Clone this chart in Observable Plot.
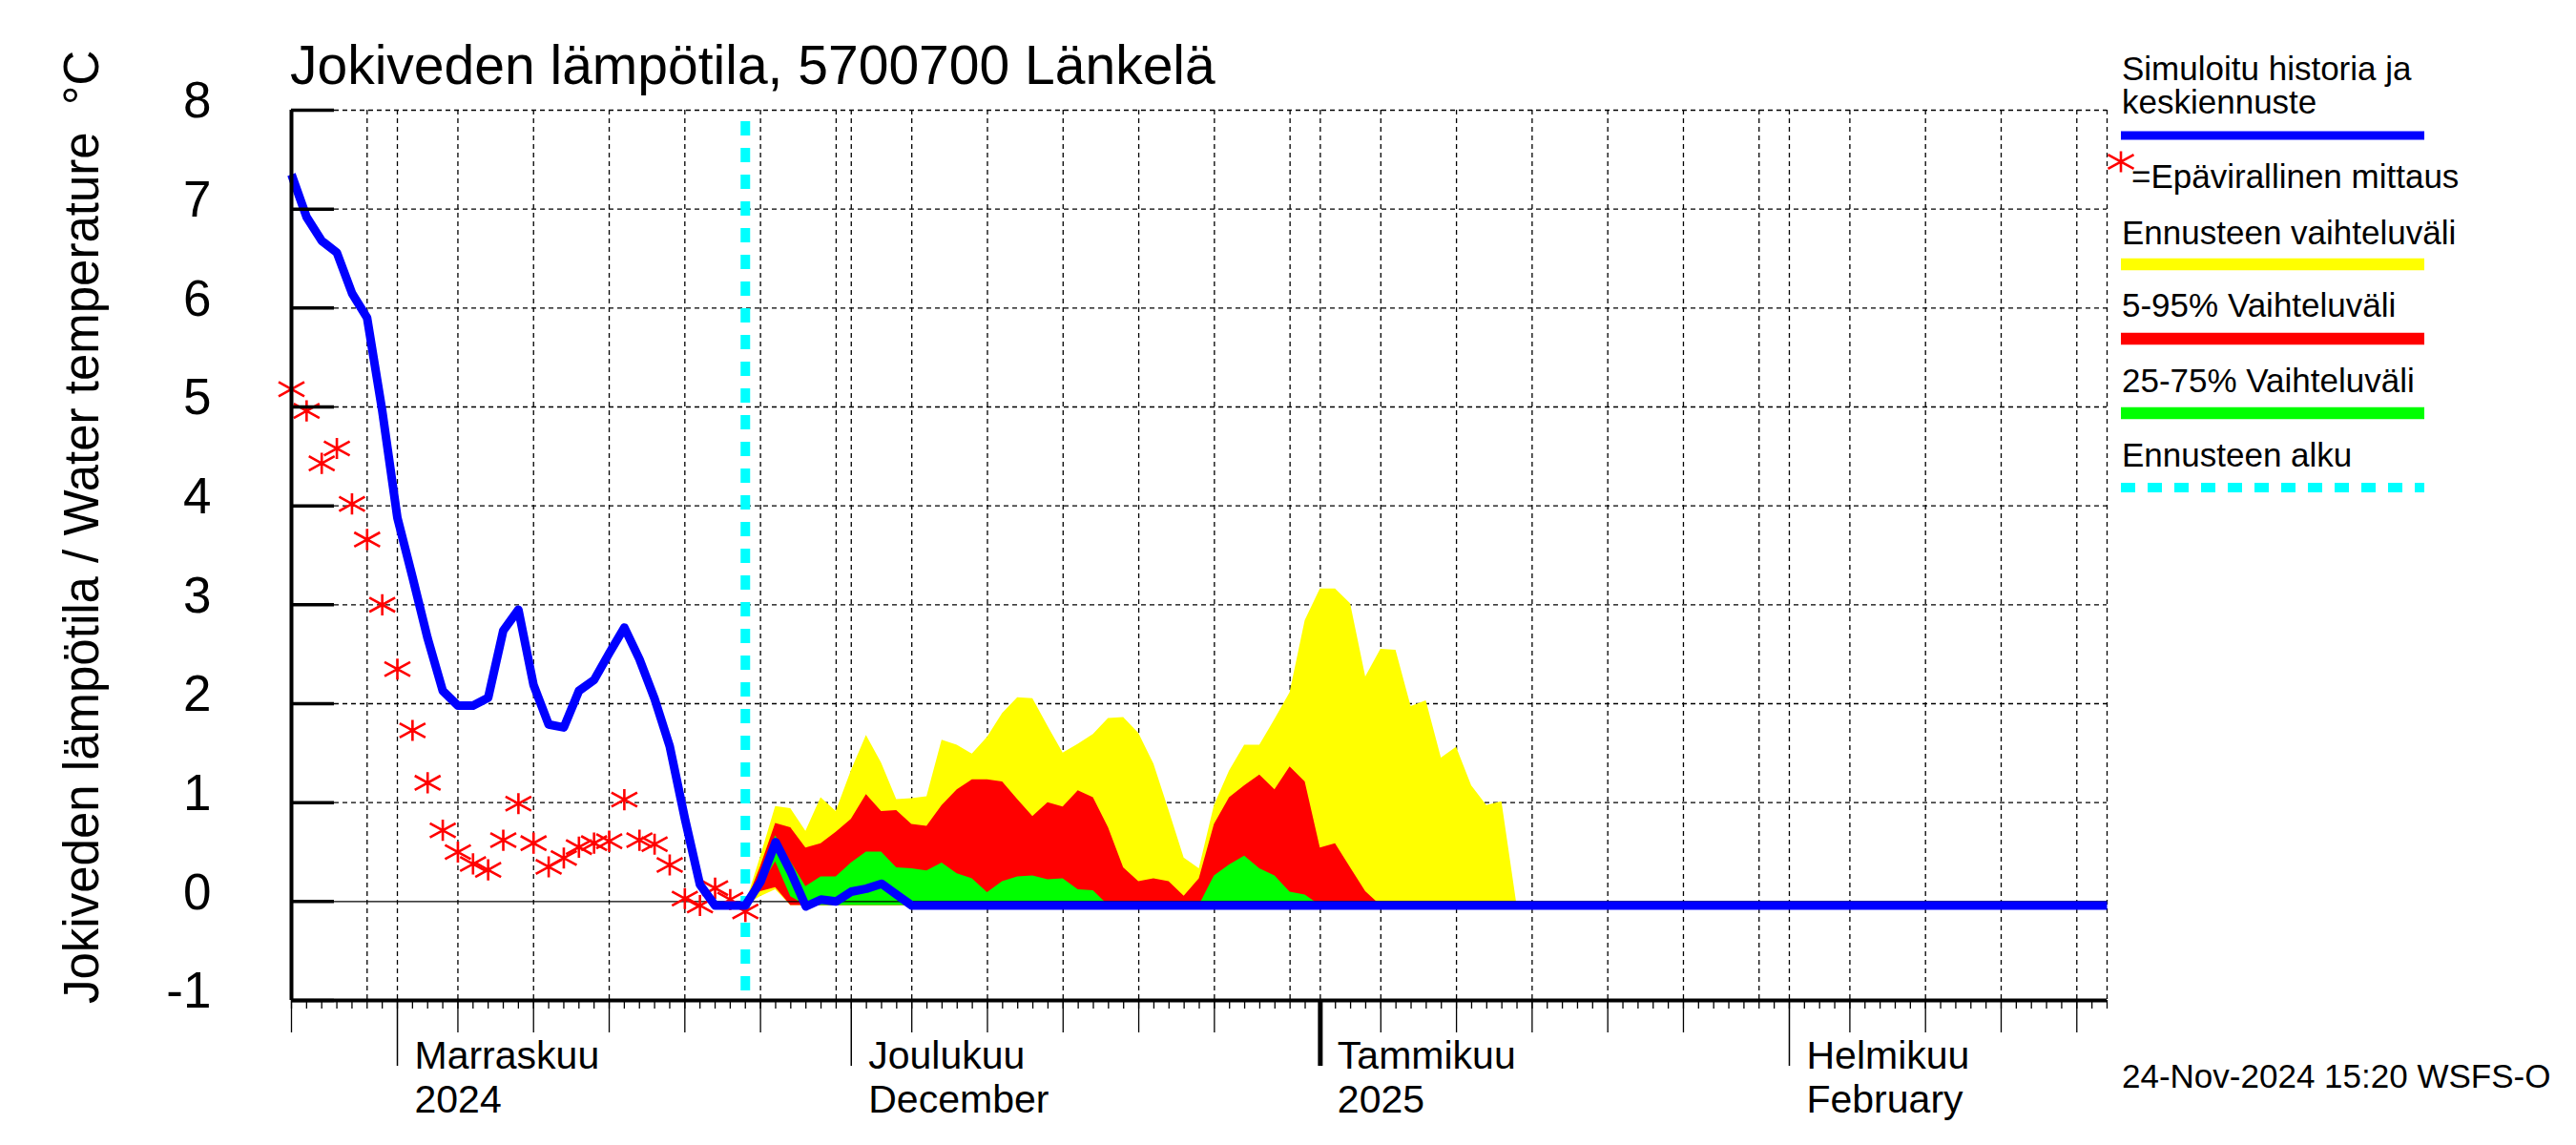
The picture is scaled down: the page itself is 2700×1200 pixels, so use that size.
<!DOCTYPE html>
<html><head><meta charset="utf-8">
<script src="https://cdn.jsdelivr.net/npm/d3@7"></script>
<script src="https://cdn.jsdelivr.net/npm/@observablehq/plot@0.6"></script>
<style>
html,body{margin:0;padding:0;background:#fff;}
#chart svg{display:block;}
</style></head><body><div id="chart"></div>
<script>
// ---------------- data ----------------
const titleText = "Jokiveden lämpötila, 5700700 Länkelä";
const yLabelText = "Jokiveden lämpötila / Water temperature  °C";
const footerText = "24-Nov-2024 15:20 WSFS-O";

const xStartDate = "2024-10-25";
const xEndDate = "2025-02-22";
const forecastStartDate = "2024-11-24";

// simulated history + mean forecast, daily from 2024-10-25
const simulated = [7.35, 6.92, 6.68, 6.56, 6.15, 5.90, 4.96, 3.88, 3.28, 2.66,
  2.13, 1.98, 1.98, 2.06, 2.74, 2.95, 2.19, 1.79, 1.76, 2.13,
  2.24, 2.51, 2.77, 2.45, 2.05, 1.57, 0.84, 0.17, -0.04, -0.04,
  -0.04, 0.20, 0.60, 0.30, -0.05, 0.02, 0.00, 0.10, 0.13, 0.18,
  0.07, -0.04];
const simulatedEnd = {date: "2025-02-22", value: -0.04};

// unofficial measurements, daily from 2024-10-25
const observed = [5.18, 4.96, 4.43, 4.58, 4.02, 3.66, 3.00, 2.35, 1.73, 1.20,
  0.72, 0.50, 0.38, 0.32, 0.62, 0.99, 0.59, 0.35, 0.44, 0.55,
  0.59, 0.61, 1.03, 0.62, 0.58, 0.37, 0.03, -0.04, 0.135, 0.02,
  -0.10];

// forecast bands, daily from 2024-11-24
const bandStart = "2024-11-24";
const yellowHigh = [-0.04, 0.45, 0.96, 0.94, 0.71, 1.05, 0.91, 1.32, 1.68, 1.40,
  1.03, 1.04, 1.06, 1.63, 1.58, 1.49, 1.66, 1.90, 2.06, 2.05,
  1.77, 1.50, 1.59, 1.69, 1.85, 1.86, 1.70, 1.39, 0.92, 0.44,
  0.33, 0.97, 1.32, 1.58, 1.58, 1.84, 2.11, 2.84, 3.16, 3.16,
  3.01, 2.27, 2.55, 2.54, 1.97, 2.03, 1.45, 1.56, 1.17, 0.97,
  1.01, -0.04];
const yellowLow = [-0.04, 0.05, 0.12, -0.04, -0.04, -0.04, -0.04, -0.04, -0.04, -0.04,
  -0.04, -0.04, -0.04, -0.04, -0.04, -0.04, -0.04, -0.04, -0.04, -0.04,
  -0.04, -0.04, -0.04, -0.04, -0.04, -0.04, -0.04, -0.04, -0.04, -0.04,
  -0.04, -0.04, -0.04, -0.04, -0.04, -0.04, -0.04, -0.04, -0.04, -0.04,
  -0.04, -0.04, -0.04, -0.04, -0.04, -0.04, -0.04, -0.04, -0.04, -0.04,
  -0.04, -0.04];
const redHigh = [-0.04, 0.35, 0.79, 0.745, 0.54, 0.585, 0.70, 0.83, 1.08, 0.91,
  0.92, 0.78, 0.76, 0.97, 1.13, 1.23, 1.23, 1.21, 1.03, 0.86,
  1.00, 0.955, 1.12, 1.05, 0.745, 0.34, 0.20, 0.23, 0.20, 0.055,
  0.23, 0.78, 1.05, 1.17, 1.28, 1.13, 1.36, 1.21, 0.54, 0.585,
  0.34, 0.10, -0.04, -0.04, -0.04, -0.04, -0.04, -0.04, -0.04, -0.04,
  -0.04, -0.04];
const redLow = [-0.04, 0.10, 0.14, -0.04, -0.04, -0.04, -0.04, -0.04, -0.04, -0.04,
  -0.04, -0.04, -0.04, -0.04, -0.04, -0.04, -0.04, -0.04, -0.04, -0.04,
  -0.04, -0.04, -0.04, -0.04, -0.04, -0.04, -0.04, -0.04, -0.04, -0.04,
  -0.04, -0.04, -0.04, -0.04, -0.04, -0.04, -0.04, -0.04, -0.04, -0.04,
  -0.04, -0.04, -0.04, -0.04, -0.04, -0.04, -0.04, -0.04, -0.04, -0.04,
  -0.04, -0.04];
const greenHigh = [-0.04, 0.25, 0.665, 0.40, 0.15, 0.25, 0.25, 0.39, 0.50, 0.50,
  0.34, 0.33, 0.31, 0.39, 0.28, 0.23, 0.09, 0.20, 0.25, 0.26,
  0.22, 0.23, 0.12, 0.11, -0.04, -0.04, -0.04, -0.04, -0.04, -0.04,
  -0.04, 0.26, 0.37, 0.46, 0.33, 0.26, 0.095, 0.065, -0.04, -0.04,
  -0.04, -0.04, -0.04, -0.04, -0.04, -0.04, -0.04, -0.04, -0.04, -0.04,
  -0.04, -0.04];
const greenLow = [-0.04, 0.15, 0.40, 0.05, -0.04, -0.04, -0.04, -0.04, -0.04, -0.04,
  -0.04, -0.04, -0.04, -0.04, -0.04, -0.04, -0.04, -0.04, -0.04, -0.04,
  -0.04, -0.04, -0.04, -0.04, -0.04, -0.04, -0.04, -0.04, -0.04, -0.04,
  -0.04, -0.04, -0.04, -0.04, -0.04, -0.04, -0.04, -0.04, -0.04, -0.04,
  -0.04, -0.04, -0.04, -0.04, -0.04, -0.04, -0.04, -0.04, -0.04, -0.04,
  -0.04, -0.04];

const yTicks = [-1, 0, 1, 2, 3, 4, 5, 6, 7, 8];
const yGridValues = [1, 2, 3, 4, 5, 6, 7, 8];
const monthLabels = [
  {date: "2024-11-01", text: "Marraskuu\n2024"},
  {date: "2024-12-01", text: "Joulukuu\nDecember"},
  {date: "2025-01-01", text: "Tammikuu\n2025"},
  {date: "2025-02-01", text: "Helmikuu\nFebruary"}
];
const legendItems = [
  {label: "Simuloitu historia ja\nkeskiennuste", color: "#0000ff", kind: "line"},
  {label: "=Epävirallinen mittaus", color: "#ff0000", kind: "star"},
  {label: "Ennusteen vaihteluväli", color: "#ffff00", kind: "bar"},
  {label: "5-95% Vaihteluväli", color: "#ff0000", kind: "bar"},
  {label: "25-75% Vaihteluväli", color: "#00ff00", kind: "bar"},
  {label: "Ennusteen alku", color: "#00ffff", kind: "dash"}
];

// ---------------- build ----------------
const FONT = "'Liberation Sans', Arial, Helvetica, sans-serif";
const parse = s => new Date(s + "T00:00:00Z");
const addDays = (s, i) => new Date(parse(s).getTime() + i * 864e5);

const xStart = parse(xStartDate), xEnd = parse(xEndDate);
const simData = simulated.map((v, i) => ({date: addDays(xStartDate, i), value: v}))
  .concat([{date: parse(simulatedEnd.date), value: simulatedEnd.value}]);
const obsData = observed.map((v, i) => ({date: addDays(xStartDate, i), value: v}));
const bands = yellowHigh.map((v, i) => ({
  date: addDays(bandStart, i),
  yh: v, yl: yellowLow[i], rh: redHigh[i], rl: redLow[i], gh: greenHigh[i], gl: greenLow[i]
}));
const labels = monthLabels.map(d => ({date: parse(d.date), text: d.text}));

const allDays = d3.utcDay.range(xStart, new Date(xEnd.getTime() + 1));
const fiveDays = allDays.filter(d => [5, 10, 15, 20, 25].includes(d.getUTCDate()));
const monthDays = allDays.filter(d => d.getUTCDate() === 1);
const yearDays = monthDays.filter(d => d.getUTCMonth() === 0);
const gridDays = allDays.filter(d => [1, 5, 10, 15, 20, 25, 30].includes(d.getUTCDate()) && +d !== +xStart).concat([xEnd]);

const W = 2700, H = 1200, mL = 305, mR = 492, mT = 115, mB = 152;
const plotW = W - mL - mR;

const asterisk = {
  draw(ctx, size) {
    const r = Math.sqrt(size / Math.PI);
    ctx.moveTo(0, -r * 0.82); ctx.lineTo(0, r * 0.82);
    ctx.moveTo(-r, -r * 0.55); ctx.lineTo(r, r * 0.55);
    ctx.moveTo(-r, r * 0.55); ctx.lineTo(r, -r * 0.55);
  }
};
const noText = () => "";

const plot = Plot.plot({
  width: W, height: H,
  marginLeft: mL, marginRight: mR, marginTop: mT, marginBottom: mB,
  style: {fontFamily: FONT, background: "white", overflow: "visible", color: "black"},
  x: {type: "utc", domain: [xStart, xEnd], axis: null},
  y: {domain: [-1, 8], axis: null},
  marks: [
    Plot.gridY(yGridValues, {stroke: "black", strokeOpacity: 1, strokeWidth: 1.3, strokeDasharray: "5,4"}),
    Plot.gridX(gridDays, {stroke: "black", strokeOpacity: 1, strokeWidth: 1.3, strokeDasharray: "5,4"}),
    Plot.areaY(bands, {x: "date", y1: "yl", y2: "yh", fill: "#ffff00"}),
    Plot.areaY(bands, {x: "date", y1: "rl", y2: "rh", fill: "#ff0000"}),
    Plot.areaY(bands, {x: "date", y1: "gl", y2: "gh", fill: "#00ff00"}),
    Plot.ruleY([0], {stroke: "black", strokeWidth: 1.3}),
    Plot.ruleX([parse(forecastStartDate)], {stroke: "#00ffff", strokeWidth: 10, strokeDasharray: "15,13", strokeDashoffset: 16}),
    Plot.dot(obsData, {x: "date", y: "value", symbol: asterisk, r: 13.5, stroke: "#ff0000", strokeWidth: 2.6, fill: "none"}),
    Plot.line(simData, {x: "date", y: "value", stroke: "#0000ff", strokeWidth: 9, strokeLinejoin: "round", strokeLinecap: "butt"}),
    Plot.ruleY(yTicks, {stroke: "black", strokeWidth: 3.5, insetRight: plotW - 45}),
    Plot.ruleX([xStart], {stroke: "black", strokeWidth: 4}),
    Plot.ruleY([-1], {stroke: "black", strokeWidth: 4}),
    Plot.axisY({ticks: yTicks, tickSize: 0, tickPadding: 84, fontSize: 53, dy: -9, tickFormat: d => String(d)}),
    Plot.axisX({ticks: allDays, tickSize: 9, strokeWidth: 1.3, tickFormat: noText}),
    Plot.axisX({ticks: fiveDays, tickSize: 34, strokeWidth: 1.3, tickFormat: noText}),
    Plot.axisX({ticks: monthDays, tickSize: 69, strokeWidth: 1.5, tickFormat: noText}),
    Plot.axisX({ticks: yearDays, tickSize: 69, strokeWidth: 5, tickFormat: noText}),
    Plot.text(labels, {x: "date", text: "text", frameAnchor: "bottom", dx: 18, dy: 117,
      textAnchor: "start", lineAnchor: "bottom", lineHeight: 1.098, fontSize: 41, fill: "black"})
  ]
});

document.getElementById("chart").appendChild(plot);
const svg = d3.select(plot);
const overlay = svg.append("g").attr("font-family", FONT).attr("fill", "black").attr("text-anchor", "start");

// title
overlay.append("text").attr("x", 304).attr("y", 88).attr("font-size", 57).text(titleText);
// y label
overlay.append("text").attr("transform", "translate(103,1052) rotate(-90)")
  .attr("font-size", 51).style("white-space", "pre").text(yLabelText);
// footer
overlay.append("text").attr("x", 2224).attr("y", 1140).attr("font-size", 35).text(footerText);

// legend
const lg = overlay.append("g").attr("font-size", 35);
const legendLayout = [
  {baselines: [84, 118.6], sym: 142},
  {baselines: [196.5], sym: 169.5},
  {baselines: [256], sym: 277},
  {baselines: [331.6], sym: 355},
  {baselines: [410.5], sym: 433},
  {baselines: [488.8], sym: 511}
];
legendItems.forEach((it, i) => {
  const L = legendLayout[i];
  it.label.split("\n").forEach((t, j) => {
    lg.append("text").attr("x", it.kind === "star" ? 2234 : 2224).attr("y", L.baselines[j]).text(t);
  });
  if (it.kind === "line") {
    lg.append("line").attr("x1", 2223).attr("x2", 2541).attr("y1", L.sym).attr("y2", L.sym)
      .attr("stroke", it.color).attr("stroke-width", 9);
  } else if (it.kind === "bar") {
    lg.append("line").attr("x1", 2223).attr("x2", 2541).attr("y1", L.sym).attr("y2", L.sym)
      .attr("stroke", it.color).attr("stroke-width", 12.5);
  } else if (it.kind === "dash") {
    lg.append("line").attr("x1", 2223).attr("x2", 2541).attr("y1", L.sym).attr("y2", L.sym)
      .attr("stroke", it.color).attr("stroke-width", 10).attr("stroke-dasharray", "15,13");
  } else if (it.kind === "star") {
    const p = d3.path(); asterisk.draw(p, 13.5 * 13.5 * Math.PI);
    lg.append("path").attr("d", p.toString()).attr("transform", `translate(2223,${L.sym})`)
      .attr("stroke", it.color).attr("stroke-width", 2.6).attr("fill", "none");
  }
});
</script></body></html>
